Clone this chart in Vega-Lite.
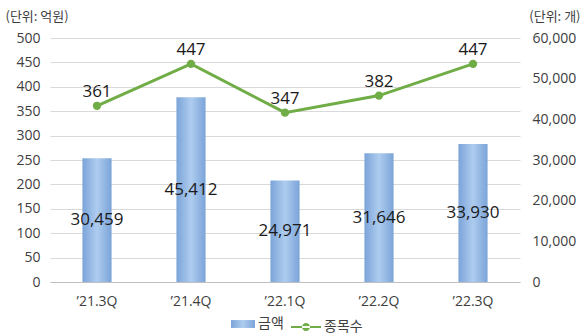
{
  "$schema": "https://vega.github.io/schema/vega-lite/v6.json",
  "autosize": "none",
  "width": 470,
  "height": 244,
  "padding": {"left": 50, "top": 38, "right": 66, "bottom": 54},
  "background": "white",
  "config": {
    "view": {"stroke": null},
    "font": "Open Sans",
    "axis": {"labelFont": "Open Sans", "labelColor": "#404040", "labelFontSize": 14, "titleFont": "Noto Sans CJK KR", "titleFontWeight": "normal", "titleColor": "#404040", "titleFontSize": 13, "ticks": false, "domain": false},
    "legend": {"labelFont": "Noto Sans CJK KR", "labelFontSize": 14, "labelColor": "#404040"}
  },
  "data": {"values": [
    {"q": "’21.3Q", "amt": 30459, "cnt": 361},
    {"q": "’21.4Q", "amt": 45412, "cnt": 447},
    {"q": "’22.1Q", "amt": 24971, "cnt": 347},
    {"q": "’22.2Q", "amt": 31646, "cnt": 382},
    {"q": "’22.3Q", "amt": 33930, "cnt": 447}
  ]},
  "transform": [{"calculate": "datum.amt / 2", "as": "amtMid"}, {"calculate": "'금액'", "as": "s1"}, {"calculate": "'종목수'", "as": "s2"}],
  "encoding": {
    "x": {"field": "q", "type": "nominal", "sort": null, "scale": {"paddingInner": 0.69, "paddingOuter": 0.345},
      "axis": {"title": null, "labelAngle": 0, "labelPadding": 12, "domain": true, "domainColor": "#bfbfbf", "grid": false}}
  },
  "layer": [
    {
      "layer": [
        {
          "mark": {"type": "bar", "strokeWidth": 0, "fill": {"gradient": "linear", "x1": 0, "y1": 0, "x2": 1, "y2": 0, "stops": [{"offset": 0, "color": "#7BA4D8"}, {"offset": 0.5, "color": "#AECCEF"}, {"offset": 1, "color": "#7BA4D8"}]}},
          "encoding": {
            "y": {"field": "amt", "type": "quantitative", "scale": {"domain": [0, 60000]},
              "axis": {"orient": "right", "values": [0, 10000, 20000, 30000, 40000, 50000, 60000], "labelExpr": "format(datum.value, ',')", "grid": false, "labelPadding": 12, "labelAlign": "left",
                "title": "(단위: 개)", "titleAngle": 0, "titleAlign": "right", "titleBaseline": "middle", "titleX": 60, "titleY": -22}},
            "stroke": {"field": "s1", "type": "nominal",
              "scale": {"domain": ["금액"], "range": ["#8DB3E2"]},
              "legend": {"orient": "none", "legendX": 181, "legendY": 274, "title": null, "symbolType": "M-1,-0.33H1V0.33H-1Z", "symbolSize": 576, "symbolStrokeWidth": 0, "symbolFillColor": "#8DB3E2", "labelOffset": 3}}
          }
        },
        {
          "mark": {"type": "text", "fontSize": 17, "color": "#1a1a1a", "font": "Open Sans"},
          "encoding": {
            "y": {"field": "amtMid", "type": "quantitative", "scale": {"domain": [0, 60000]},
              "axis": {"orient": "right", "values": [0, 10000, 20000, 30000, 40000, 50000, 60000], "labelExpr": "format(datum.value, ',')", "grid": false, "labelPadding": 12, "labelAlign": "left",
                "title": "(단위: 개)", "titleAngle": 0, "titleAlign": "right", "titleBaseline": "middle", "titleX": 60, "titleY": -22}},
            "text": {"field": "amt", "type": "quantitative", "format": ","}
          }
        }
      ]
    },
    {
      "encoding": {
        "y": {"field": "cnt", "type": "quantitative", "scale": {"domain": [0, 500]},
          "axis": {"orient": "left", "values": [0, 50, 100, 150, 200, 250, 300, 350, 400, 450, 500], "grid": true, "gridColor": "#d9d9d9", "labelPadding": 10,
            "title": "(단위: 억원)", "titleAngle": 0, "titleAlign": "left", "titleBaseline": "middle", "titleX": -45, "titleY": -22}}
      },
      "layer": [
        {
          "mark": {"type": "line", "strokeWidth": 3, "point": {"filled": true, "size": 70, "color": "#70AD47"}},
          "encoding": {
            "color": {"field": "s2", "type": "nominal",
              "scale": {"domain": ["종목수"], "range": ["#70AD47"]},
              "legend": {"orient": "none", "legendX": 241, "legendY": 274, "title": null, "symbolType": "M-1,-0.07H1V0.07H-1Z M-0.27,0 a0.27,0.27 0 1,0 0.54,0 a0.27,0.27 0 1,0 -0.54,0Z", "symbolSize": 900, "symbolStrokeWidth": 0, "symbolFillColor": "#70AD47", "labelOffset": 3}}
          }
        },
        {
          "mark": {"type": "text", "fontSize": 17, "color": "#1a1a1a", "baseline": "bottom", "dy": -5, "font": "Open Sans"},
          "encoding": {
            "text": {"field": "cnt", "type": "quantitative"}
          }
        }
      ]
    }
  ],
  "resolve": {"scale": {"y": "independent", "color": "independent", "stroke": "independent"}}
}
